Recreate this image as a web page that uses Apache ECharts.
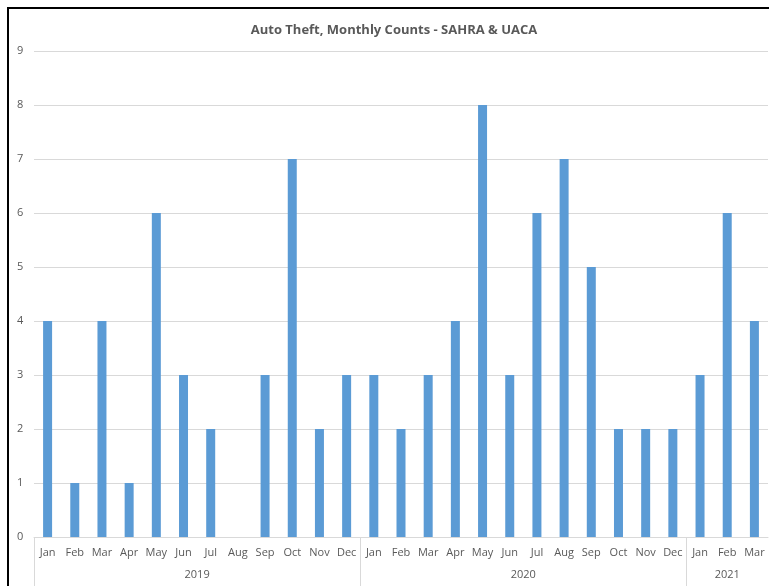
<!DOCTYPE html>
<html>
<head>
<meta charset="utf-8">
<script src="https://cdn.jsdelivr.net/npm/echarts@6/dist/echarts.min.js"></script>
<style>
html,body{margin:0;padding:0;background:#fff;overflow:hidden;width:769px;height:586px;}
#frame{position:absolute;left:7px;top:7px;width:762px;height:579px;border-top:2px solid #000;border-left:2px solid #000;box-sizing:border-box;}
#chart{position:absolute;left:0;top:0;width:769px;height:586px;}
</style>
</head>
<body>
<div id="frame"></div>
<div id="chart"></div>
<script>
const months = ['Jan','Feb','Mar','Apr','May','Jun','Jul','Aug','Sep','Oct','Nov','Dec',
                'Jan','Feb','Mar','Apr','May','Jun','Jul','Aug','Sep','Oct','Nov','Dec',
                'Jan','Feb','Mar'];
const counts = [4,1,4,1,6,3,2,0,3,7,2,3,
                3,2,3,4,8,3,6,7,5,2,2,2,
                3,6,4];
const years = ['2019','2020','2021'];
const yearSpans = [12,12,3];
const yTicks = [0,1,2,3,4,5,6,7,8,9];

// derived group boundaries / centers on a 0..N value scale
const bounds = [0];
yearSpans.forEach(s => bounds.push(bounds[bounds.length-1] + s));
const centers = yearSpans.map((s,i) => bounds[i] + s/2);
const total = bounds[bounds.length-1];

const chart = echarts.init(document.getElementById('chart'), null, {renderer:'canvas'});
const font = '"Open Sans", "Noto Sans", sans-serif';
chart.setOption({
  backgroundColor: 'transparent',
  animation: false,
  title: {
    text: 'Auto Theft, Monthly Counts - SAHRA & UACA',
    left: 389, top: 19, textAlign: 'center',
    textStyle: {fontFamily: font, fontSize: 13, fontWeight: 'bold', color: '#595959'}
  },
  grid: {left: 34, right: 1, top: 51, bottom: 49, containLabel: false},
  xAxis: [{
    type: 'category',
    data: months,
    axisLine: {show: true, lineStyle: {color: '#d9d9d9', width: 1}},
    axisTick: {show: false},
    axisLabel: {interval: 0, color: '#595959', fontFamily: font, fontSize: 11, margin: 10}
  }, {
    type: 'value',
    position: 'bottom',
    min: 0, max: total,
    axisLine: {show: false},
    splitLine: {show: false},
    axisTick: {show: true, customValues: bounds.slice(0, -1), length: 50, lineStyle: {color: '#d9d9d9'}},
    axisLabel: {
      show: true, customValues: centers, margin: 32,
      color: '#595959', fontFamily: font, fontSize: 11,
      formatter: v => { const i = centers.indexOf(v); return i >= 0 ? years[i] : ''; }
    }
  }],
  yAxis: {
    type: 'value', min: yTicks[0], max: yTicks[yTicks.length-1], interval: 1,
    axisLine: {show: false}, axisTick: {show: false},
    splitLine: {lineStyle: {color: '#d9d9d9', width: 1}},
    axisLabel: {color: '#595959', fontFamily: font, fontSize: 11, margin: 17, align: 'left',
      formatter: v => String(v)},
  },
  series: [{
    type: 'bar',
    data: counts,
    barWidth: 9,
    itemStyle: {color: '#5b9bd5'},
    xAxisIndex: 0
  }]
});
</script>
</body>
</html>
